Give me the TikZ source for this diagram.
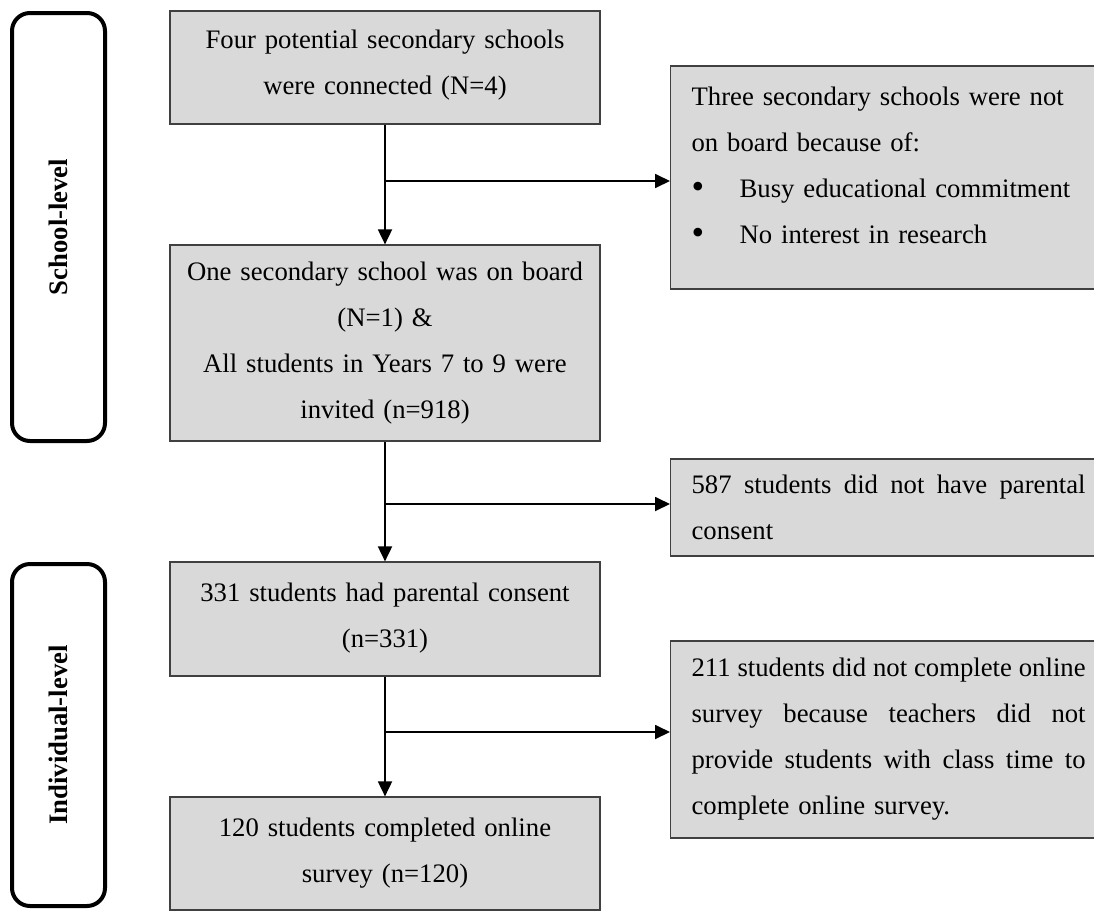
\documentclass[tikz,border=0pt]{standalone}
\usepackage{fontspec}
\setmainfont{Liberation Serif}
\usetikzlibrary{arrows.meta}
\definecolor{boxgray}{HTML}{D9D9D9}
\definecolor{boxline}{HTML}{404040}
% a justified line of the side boxes (restores stretchable word spaces)
\newcommand{\fullline}[1]{{\spaceskip=0pt\relax\xspaceskip=0pt\relax\makebox[394pt][s]{#1}}}
\newcommand{\bulletitem}{\makebox[48pt][l]{\fontsize{36}{46}\selectfont\raisebox{-1pt}{\textbullet}}}
% extra room below the last line, so the text block sits higher in its box
\newcommand{\roombelow}[1]{\par\vspace{#1}\hrule height 0pt width 0pt}
\begin{document}
\begin{tikzpicture}[x=1pt,y=-1pt,
  flow/.style={draw=boxline, line width=1.2pt, fill=boxgray,
    font=\fontsize{26.7}{46}\selectfont, inner ysep=0pt},
  midbox/.style={flow, text width=410pt, inner xsep=10pt, align=center, minimum width=430pt},
  sidebox/.style={flow, text width=394pt, inner xsep=21pt, align=left, anchor=west},
  level/.style={draw=black, line width=4pt, rounded corners=18pt, rotate=90,
    minimum height=93pt, font=\fontsize{26.7}{30}\selectfont\bfseries},
  arr/.style={line width=1.8pt, -{Triangle[length=15pt,width=14pt]}}]
\clip (0,0) rectangle (1094,913);
\fill[white] (0,0) rectangle (1094,913);

% stage labels on the left
\node[level, minimum width=428pt] (school) at (58.5,227) {School-level};
\node[level, minimum width=342pt] (indiv) at (58.5,735) {Individual-level};

% main flow
\node[midbox, minimum height=113pt] (A) at (385,67.5)
  {Four potential secondary schools\\were connected (N=4)\roombelow{4pt}};
\node[midbox, minimum height=196pt] (C) at (385,343)
  {One secondary school was on board\\(N=1) \&\\All students in Years 7 to 9 were\\invited (n=918)};
\node[midbox, minimum height=114pt] (E) at (385,619)
  {331 students had parental consent\\(n=331)\roombelow{2pt}};
\node[midbox, minimum height=113pt] (G) at (385,853.5)
  {120 students completed online\\survey (n=120)\roombelow{0pt}};

% exclusions
\node[sidebox, minimum height=223pt] (B) at (670,177.5)
  {Three secondary schools were not\\on board because of:\\
   \bulletitem Busy educational commitment\\
   \bulletitem No interest in research\roombelow{24pt}};
\node[sidebox, minimum height=97pt] (D) at (670,507.5)
  {\fullline{587 students did not have parental}\\consent};
\node[sidebox, minimum height=197pt] (F) at (670,739.5)
  {\fullline{211 students did not complete online}\\
   \fullline{survey because teachers did not}\\
   \fullline{provide students with class time to}\\
   complete online survey.};

% connectors
\coordinate (jB) at (385,181);
\coordinate (jD) at (385,504);
\coordinate (jF) at (385,732);
\draw[arr] (A.south) -- (C.north);
\draw[arr] (jB) -- (jB -| B.west);
\draw[arr] (C.south) -- (E.north);
\draw[arr] (jD) -- (jD -| D.west);
\draw[arr] (E.south) -- (G.north);
\draw[arr] (jF) -- (jF -| F.west);
\end{tikzpicture}
\end{document}
